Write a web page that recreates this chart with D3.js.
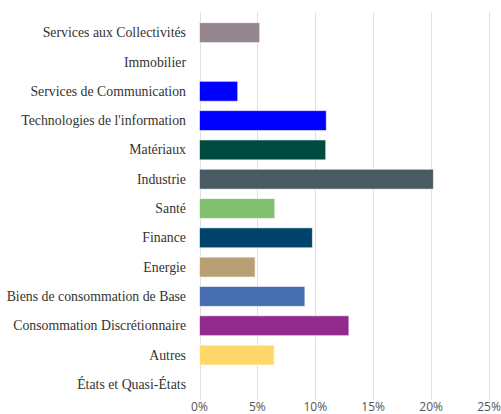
<!DOCTYPE html>
<meta charset="utf-8">
<style>
body { margin: 0; background: #fff; }
.cat text { font: 13.8px "Liberation Serif", serif; fill: #333; }
.xaxis text { font: 12px "Open Sans", sans-serif; fill: #555; }
</style>
<svg width="501" height="414"></svg>
<script src="https://d3js.org/d3.v7.min.js"></script>
<script>

// categories, top to bottom
var categories = [
  "Services aux Collectivités", "Immobilier", "Services de Communication",
  "Technologies de l'information", "Matériaux", "Industrie", "Santé",
  "Finance", "Energie", "Biens de consommation de Base",
  "Consommation Discrétionnaire", "Autres", "États et Quasi-États"
];
// weights in %
var values = [5.2, 0, 3.3, 10.95, 10.9, 20.2, 6.5, 9.75, 4.8, 9.1, 12.9, 6.45, 0];
var colors = [
  "#94858f", "#cccccc", "#0000ff", "#0000ff", "#004b40", "#4a5a63", "#80c06e",
  "#00446c", "#b99f74", "#466eb0", "#922a8c", "#fed86b", "#cccccc"
];
var ticks = [0, 5, 10, 15, 20, 25];

var svg = d3.select("svg");

var x = d3.scaleLinear().domain([0, 25]).range([199.5, 489]);
var y = d3.scaleBand().domain(categories).range([18, 399])
    .paddingInner(0.32).paddingOuter(0.16);

// grid lines
svg.append("g").selectAll("line")
    .data(ticks)
  .enter().append("line")
    .attr("x1", function(d) { return Math.round(x(d)) + 0.5; })
    .attr("x2", function(d) { return Math.round(x(d)) + 0.5; })
    .attr("y1", 12)
    .attr("y2", 400)
    .attr("stroke", "#e0e0e0")
    .attr("stroke-width", 1);

// bars
svg.append("g").selectAll("rect")
    .data(values)
  .enter().append("rect")
    .attr("x", x(0))
    .attr("y", function(d, i) { return y(categories[i]); })
    .attr("width", function(d) { return x(d) - x(0); })
    .attr("height", y.bandwidth())
    .attr("fill", function(d, i) { return colors[i]; })
    .attr("stroke", function(d) { return d > 0 ? "#ffffff" : "none"; })
    .attr("stroke-opacity", 0.6)
    .attr("stroke-width", 1);

// category labels
svg.append("g").attr("class", "cat").selectAll("text")
    .data(categories)
  .enter().append("text")
    .attr("x", 186)
    .attr("y", function(d) { return y(d) + y.bandwidth() / 2; })
    .attr("dy", "0.33em")
    .attr("text-anchor", "end")
    .text(function(d) { return d; });

// x tick labels
svg.append("g").attr("class", "xaxis").selectAll("text")
    .data(ticks)
  .enter().append("text")
    .attr("x", function(d) { return x(d); })
    .attr("y", 411)
    .attr("text-anchor", "middle")
    .text(function(d) { return d + "%"; });

</script>
